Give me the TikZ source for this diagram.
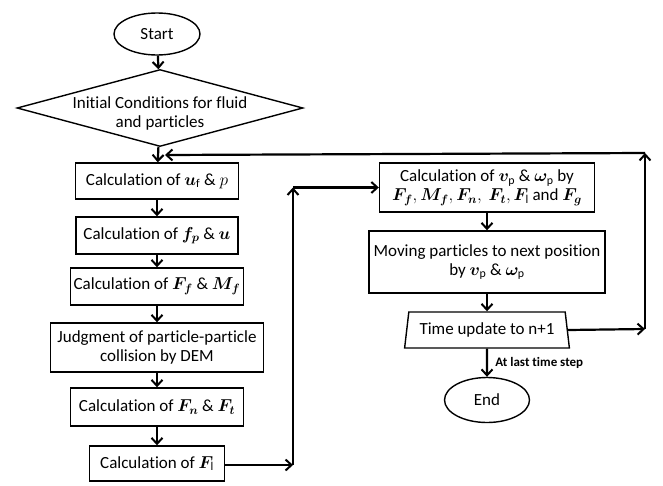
\documentclass[tikz,border=0pt]{standalone}
\usepackage{amsmath,bm}
\usepackage{fontspec}
\setmainfont[Ligatures=NoCommon]{Carlito}
\usetikzlibrary{shapes.geometric,arrows.meta}
\begin{document}
\begin{tikzpicture}[x=1pt,y=-1pt,
  every node/.style={font=\fontsize{17}{19}\selectfont},
  box/.style={draw,line width=1.4pt,align=center,inner sep=1pt},
  term/.style={draw,ellipse,line width=1.4pt,inner sep=0pt},
  decision/.style={draw,diamond,line width=1.4pt,inner sep=0pt,minimum width=286pt,minimum height=77pt},
  io/.style={draw,trapezium,trapezium stretches=true,trapezium left angle=76,trapezium right angle=76,line width=1.4pt,inner sep=0pt,minimum width=165pt,minimum height=36pt},
  flow/.style={line width=2.2pt,-{Straight Barb[length=6pt,width=11pt,line width=2pt]}},
  txt/.style={align=center,inner sep=0pt}
]
\useasboundingbox (0,0) rectangle (663,485);

% left column
\node[term,minimum width=86pt,minimum height=42pt] (start) at (157,34) {Start};
\node[decision] (init) at (160,108) {};
\node[txt] (initT) at (160,113) {Initial Conditions for fluid\\and particles};
\node[box,minimum width=163pt,minimum height=36pt] (b1) at (157,181) {Calculation of $\bm{u}_{\mathrm{f}}$ \& $p$};
\node[box,minimum width=162pt,minimum height=37pt] (b2) at (157,235.5) {Calculation of $\bm{f_p}$ \& $\bm{u}$};
\node[box,minimum width=173pt,minimum height=37pt] (b3) at (157,286.5) {Calculation of $\bm{F_f}$ \& $\bm{M_f}$};
\node[box,minimum width=213pt,minimum height=49pt] (b4) at (157,347.5) {Judgment of particle-particle\\collision by DEM};
\node[box,minimum width=173pt,minimum height=38pt] (b5) at (157,407) {Calculation of $\bm{F_n}$ \& $\bm{F_t}$};
\node[box,minimum width=135pt,minimum height=35pt] (b6) at (157,463.5) {Calculation of $\bm{F}_{\mathrm{l}}$};

% right column
\node[box,minimum width=215pt,minimum height=49pt] (b7) at (487,187.5) {Calculation of $\bm{v}_{\mathrm{p}}$ \& $\bm{\omega}_{\mathrm{p}}$ by\\$\bm{F_f}, \bm{M_f}, \bm{F_n},\ \bm{F_t}, \bm{F}_{\mathrm{l}}$ and $\bm{F_g}$};
\node[box,minimum width=236pt,minimum height=62pt] (b8) at (487,262) {Moving particles to next position\\by $\bm{v}_{\mathrm{p}}$ \& $\bm{\omega}_{\mathrm{p}}$};
\node[io] (trap) at (487,330) {Time update to n+1};
\node[term,minimum width=85pt,minimum height=45pt] (end) at (487,400) {End};

% helper coordinates
\coordinate (c1) at (293,465);
\coordinate (c2) at (293,187.5);
\coordinate (c3) at (645,329);
\coordinate (c4) at (645,153);
\coordinate (c5) at (165,155);

% connectors
\draw[flow] (start) -- (init);
\draw[flow] (init) -- (b1);
\draw[flow] (b1) -- (b2);
\draw[flow] (b2) -- (b3);
\draw[flow] (b3) -- (b4);
\draw[flow] (b4) -- (b5);
\draw[flow] (b5) -- (b6);
\draw[flow] (b6.east |- c1) -- (c1);
\draw[flow] (c1) -- (c2);
\draw[flow] (c2) -- (b7.west);
\draw[flow] (b7) -- (b8);
\draw[flow] (b8) -- (trap);
\draw[flow] (trap) -- node[right,xshift=4pt,font=\bfseries\fontsize{13}{15}\selectfont] (lbl) {At last time step} (end);
\draw[flow] (trap.east) -- (c3);
\draw[flow] (c3) -- (c4);
\draw[flow] (c4) -- (c5);
\end{tikzpicture}
\end{document}
